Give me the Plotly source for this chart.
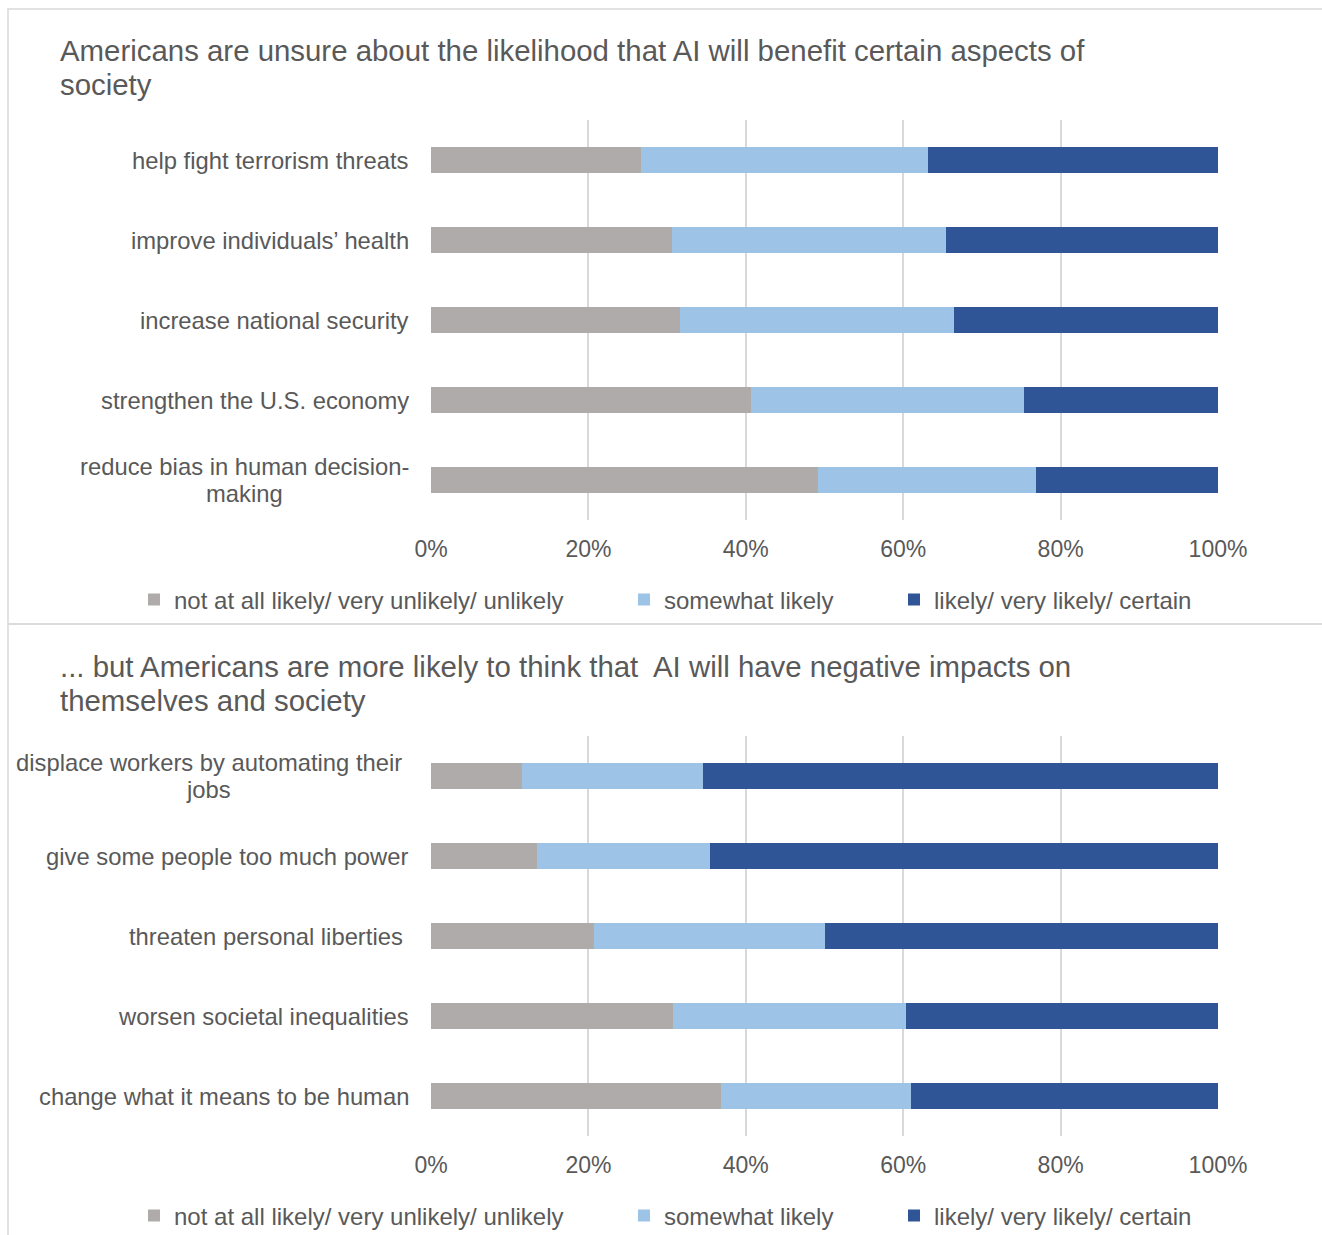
import plotly.graph_objects as go

W, H = 1322, 1235

# Benefit items (top panel), listed top to bottom
benefit_items = [
    "help fight terrorism threats",
    "improve individuals’ health",
    "increase national security",
    "strengthen the U.S. economy",
    "reduce bias in human decision-making",
]
# Label lines as wrapped on the chart
benefit_labels = [
    ["help fight terrorism threats"],
    ["improve individuals’ health"],
    ["increase national security"],
    ["strengthen the U.S. economy"],
    ["reduce bias in human decision-", "making"],
]
benefit_unlikely = [26.7, 30.6, 31.7, 40.7, 49.2]
benefit_somewhat = [36.5, 34.9, 34.8, 34.7, 27.7]
benefit_likely = [36.8, 34.5, 33.5, 24.6, 23.1]

# Harm items (bottom panel), listed top to bottom
harm_items = [
    "displace workers by automating their jobs",
    "give some people too much power",
    "threaten personal liberties",
    "worsen societal inequalities",
    "change what it means to be human",
]
harm_labels = [
    ["displace workers by automating their ", "jobs"],
    ["give some people too much power"],
    ["threaten personal liberties "],
    ["worsen societal inequalities"],
    ["change what it means to be human"],
]
harm_unlikely = [11.5, 13.5, 20.7, 30.8, 36.8]
harm_somewhat = [23.1, 21.9, 29.4, 29.6, 24.2]
harm_likely = [65.4, 64.6, 49.9, 39.6, 39.0]

series_names = [
    "not at all likely/ very unlikely/ unlikely",
    "somewhat likely",
    "likely/ very likely/ certain",
]
series_colors = ["#AFABAB", "#9DC3E6", "#2F5597"]

x_ticks = [0, 20, 40, 60, 80, 100]
x_ticktext = ["0%", "20%", "40%", "60%", "80%", "100%"]

titles = [
    ["Americans are unsure about the likelihood that AI will benefit certain aspects of",
     "society"],
    ["... but Americans are more likely to think that  AI will have negative impacts on",
     "themselves and society"],
]

TEXT = "#595959"
GRID = "#D9D9D9"
FONT = "Liberation Sans, Arial, sans-serif"
LABEL_SIZE = 23.8
LABEL_LINE = 27      # px between wrapped label lines
TITLE_LINE = 34      # px between title lines
PANEL_STEP = 616     # px offset of the lower panel


def px_x(v):
    return v / W


def px_y(v):
    return 1 - v / H


fig = go.Figure()

# Each series gets its own legend box (legend2 .. legend7)
panels = [
    (benefit_items, [benefit_unlikely, benefit_somewhat, benefit_likely], "x", "y", 0),
    (harm_items, [harm_unlikely, harm_somewhat, harm_likely], "x2", "y2", 3),
]
for items, values, xa, ya, leg0 in panels:
    for k, (name, color, vals) in enumerate(zip(series_names, series_colors, values)):
        fig.add_trace(go.Bar(
            y=items, x=vals, name=name, orientation="h",
            marker=dict(color=color, line=dict(width=0)),
            xaxis=xa, yaxis=ya,
            legend=f"legend{leg0 + k + 2}",
            hovertemplate="%{y}: %{x:.1f}%<extra>" + name + "</extra>",
        ))

axis_x = dict(
    range=[0, 100], tickmode="array", tickvals=x_ticks, ticktext=x_ticktext,
    showgrid=True, gridcolor=GRID, gridwidth=1.5, zeroline=False,
    showline=False, ticks="", ticklabelstandoff=13,
    tickfont=dict(size=23, color=TEXT, family=FONT), fixedrange=True,
)
axis_y = dict(
    autorange="reversed", showticklabels=False, showgrid=False,
    zeroline=False, showline=False, ticks="", fixedrange=True,
)

# Plot areas: 0%..100% spans x=431..1218; rows span 120..520 and 736..1136
fig.update_layout(
    width=W, height=H,
    margin=dict(l=0, r=0, t=0, b=0, autoexpand=False),
    paper_bgcolor="white", plot_bgcolor="white",
    barmode="stack", bargap=0.675,
    font=dict(family=FONT, color=TEXT),
    xaxis=dict(axis_x, domain=[px_x(431), px_x(1218)], anchor="y"),
    yaxis=dict(axis_y, domain=[px_y(520), px_y(120)], anchor="x"),
    xaxis2=dict(axis_x, domain=[px_x(431), px_x(1218)], anchor="y2"),
    yaxis2=dict(axis_y, domain=[px_y(1136), px_y(736)], anchor="x2"),
)

legend_x = [134, 624, 894]
legend_y = [600, 600 + PANEL_STEP]
for p in range(2):
    for k in range(3):
        fig.update_layout({f"legend{p * 3 + k + 2}": dict(
            xref="container", yref="container",
            x=px_x(legend_x[k]), y=px_y(legend_y[p]),
            xanchor="left", yanchor="middle",
            orientation="h", bgcolor="rgba(0,0,0,0)", borderwidth=0,
            font=dict(size=24, color=TEXT, family=FONT),
            itemwidth=30, itemclick=False, itemdoubleclick=False,
        )})

annotations = []
# Panel titles, one annotation per line
for p, lines in enumerate(titles):
    for i, line in enumerate(lines):
        annotations.append(dict(
            text=line, xref="paper", yref="paper",
            x=px_x(58), y=px_y(50 + i * TITLE_LINE + p * PANEL_STEP),
            xanchor="left", yanchor="middle", align="left", showarrow=False,
            font=dict(size=29.4, color=TEXT, family=FONT),
        ))

# Category labels: right edge at x=411 (px); a wrapped second line is
# centred under the first one
label_centres = {"making": 244, "jobs": 208}
for items, labels, ya in [(benefit_items, benefit_labels, "y"), (harm_items, harm_labels, "y2")]:
    for item, lines in zip(items, labels):
        n = len(lines)
        for i, line in enumerate(lines):
            shift = (i - (n - 1) / 2) * LABEL_LINE
            if i == 0:
                xpos, anchor = px_x(411), "right"
            else:
                xpos, anchor = px_x(label_centres[line]), "center"
            annotations.append(dict(
                text=line, xref="paper", yref=ya, x=xpos, y=item,
                yshift=-shift, xanchor=anchor, yanchor="middle",
                showarrow=False,
                font=dict(size=LABEL_SIZE, color=TEXT, family=FONT),
            ))
fig.update_layout(annotations=annotations)

# Panel borders
shapes = []
for y0, y1 in [(9, 624), (624, 1250)]:
    shapes.append(dict(
        type="rect", xref="paper", yref="paper",
        x0=px_x(8), x1=px_x(1340), y0=px_y(y0), y1=px_y(y1),
        line=dict(color=GRID, width=1.5), fillcolor="rgba(0,0,0,0)", layer="below",
    ))
fig.update_layout(shapes=shapes)

fig.write_html("out.html", config={"displayModeBar": False})
